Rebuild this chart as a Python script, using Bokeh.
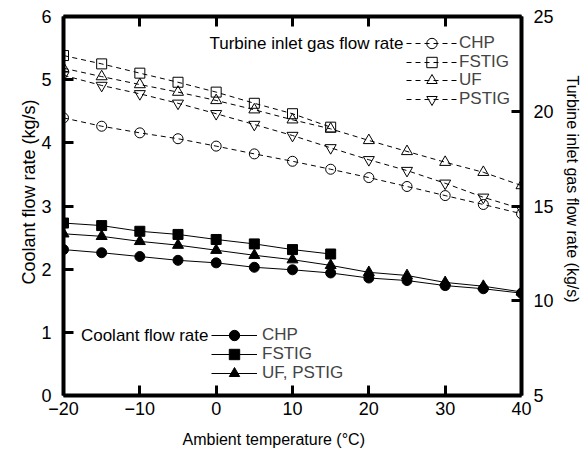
from bokeh.plotting import figure
from bokeh.models import (Range1d, LinearAxis, FixedTicker, Legend, LegendItem, Label,
                          CustomLabelingPolicy, Title)
from bokeh.embed import file_html
from bokeh.resources import INLINE

# ---- data ----
temps = [-20, -15, -10, -5, 0, 5, 10, 15, 20, 25, 30, 35, 40]
temps_fstig = [-20, -15, -10, -5, 0, 5, 10, 15]

# Turbine inlet gas flow rate (kg/s), right axis
gas_chp = [19.65, 19.21, 18.86, 18.55, 18.16, 17.75, 17.36, 16.94, 16.50, 16.03, 15.55, 15.08, 14.59]
gas_fstig = [22.94, 22.50, 22.01, 21.53, 21.01, 20.42, 19.87, 19.16]
gas_uf = [22.27, 21.83, 21.41, 21.01, 20.57, 20.08, 19.55, 19.07, 18.46, 17.88, 17.31, 16.78, 16.08]
gas_pstig = [21.90, 21.36, 20.92, 20.42, 19.87, 19.30, 18.72, 18.07, 17.44, 16.87, 16.20, 15.46, 14.85]

# Coolant flow rate (kg/s), left axis
cool_chp = [2.31, 2.26, 2.20, 2.14, 2.10, 2.03, 1.99, 1.94, 1.86, 1.82, 1.74, 1.69, 1.62]
cool_fstig = [2.73, 2.69, 2.60, 2.55, 2.47, 2.40, 2.31, 2.24]
cool_uf_pstig = [2.56, 2.52, 2.44, 2.38, 2.30, 2.22, 2.15, 2.06, 1.95, 1.90, 1.79, 1.73, 1.64]

x_ticks = [-20, -10, 0, 10, 20, 30, 40]
left_ticks = [0, 1, 2, 3, 4, 5, 6]
right_ticks = [5, 10, 15, 20, 25]

x_title = "Ambient temperature (°C)"
left_title = "Coolant flow rate (kg/s)"
right_title = "Turbine inlet gas flow rate (kg/s)"

FONT = "Liberation Sans"
TICK_FS = "18px"
LEG_FS = "17px"

# frame geometry (screen px)
W, H = 585, 460
FL, FR, FT, FB = 63, 63, 16, 65
frame_bottom = H - FB

p = figure(width=W, height=H, x_range=Range1d(-20, 40), y_range=Range1d(0, 6),
           output_backend="svg", toolbar_location=None,
           min_border_left=FL, min_border_right=FR, min_border_top=FT, min_border_bottom=FB)
p.extra_y_ranges = {"gas": Range1d(5, 25)}
p.grid.visible = False
p.outline_line_color = None
p.background_fill_color = "white"
p.border_fill_color = "white"


def style_axis(ax, ticks, standoff):
    ax.ticker = FixedTicker(ticks=ticks)
    ax.axis_line_width = 4
    ax.axis_line_color = "black"
    ax.major_tick_in = 10
    ax.major_tick_out = 0
    ax.major_tick_line_width = 3
    ax.minor_tick_line_color = None
    ax.major_label_text_font = FONT
    ax.major_label_text_font_size = TICK_FS
    ax.major_label_text_color = "black"
    ax.major_label_standoff = standoff


style_axis(p.xaxis[0], x_ticks, 6)
style_axis(p.yaxis[0], left_ticks, 12)

yr = LinearAxis(y_range_name="gas")
style_axis(yr, right_ticks, 12)
p.add_layout(yr, "right")

xt = LinearAxis()
style_axis(xt, x_ticks, 0)
xt.major_label_text_font_size = "1px"
xt.major_label_policy = CustomLabelingPolicy(
    code="for (const i of Array.from(indices)) { indices.unset(i) } return indices")
p.add_layout(xt, "above")


def side_title(text, side, offset, valign, standoff, size):
    p.add_layout(Title(text=text, align="left", offset=offset, vertical_align=valign,
                       standoff=standoff, text_font=FONT, text_font_size=size,
                       text_font_style="normal", text_color="black"), side)


side_title(x_title, "below", 119, "bottom", 22, "16px")
side_title(left_title, "left", 111, "bottom", 0, "18px")
side_title(right_title, "right", 59, "top", 10, "16px")

# ---- turbine inlet gas flow (open markers, dashed) ----
DASH = "5 4"
gas_specs = [
    ("CHP", temps, gas_chp, "circle", 10),
    ("FSTIG", temps_fstig, gas_fstig, "square", 10),
    ("UF", temps, gas_uf, "triangle", 11),
    ("PSTIG", temps, gas_pstig, "inverted_triangle", 11),
]
gas_renderers = []
for name, xs, ys, mk, sz in gas_specs:
    lr = p.line(xs, ys, y_range_name="gas", line_color="black", line_width=1, line_dash=DASH)
    sr = p.scatter(xs, ys, y_range_name="gas", marker=mk, size=sz,
                   fill_alpha=0, line_color="black", line_width=1)
    gas_renderers.append((name, [lr, sr]))

# ---- coolant flow (filled markers, solid) ----
cool_specs = [
    ("CHP", temps, cool_chp, "circle", 10),
    ("FSTIG", temps_fstig, cool_fstig, "square", 10),
    ("UF, PSTIG", temps, cool_uf_pstig, "triangle", 11),
]
cool_renderers = []
for name, xs, ys, mk, sz in cool_specs:
    lr = p.line(xs, ys, line_color="black", line_width=1)
    sr = p.scatter(xs, ys, marker=mk, size=sz, fill_color="black", line_color="black")
    cool_renderers.append((name, [lr, sr]))


def add_row(name, rends, left_px, center_y_px, glyph_w, standoff, glyph_h=26):
    vy = (frame_bottom - center_y_px) - glyph_h / 2
    leg = Legend(items=[LegendItem(label=name, renderers=rends)],
                 location=(left_px - FL, vy),
                 orientation="vertical", padding=0, margin=0, spacing=0,
                 glyph_width=glyph_w, glyph_height=glyph_h, label_height=glyph_h,
                 label_standoff=standoff,
                 label_text_font=FONT, label_text_font_size=LEG_FS,
                 label_text_baseline="middle",
                 border_line_color=None, background_fill_alpha=0)
    p.add_layout(leg)


gas_rows_y = [43.3, 61.7, 80.0, 99.3]
for (name, rends), yc in zip(gas_renderers, gas_rows_y):
    add_row(name, rends, 406, yc, 51, 2)

cool_rows_y = [334.5, 353.5, 373.0]
for (name, rends), yc in zip(cool_renderers, cool_rows_y):
    add_row(name, rends, 211, yc, 46, 5)


def screen_label(text, sx, sy, size, align="center"):
    p.add_layout(Label(x=sx - FL, y=frame_bottom - sy, x_units="screen", y_units="screen",
                       text=text, text_align=align, text_baseline="middle",
                       text_font=FONT, text_font_size=size, text_color="black"))


screen_label("Turbine inlet gas flow rate", 403, 43.3, LEG_FS, align="right")
screen_label("Coolant flow rate", 208, 334.5, LEG_FS, align="right")

open("out.html", "w").write(file_html(p, INLINE))
